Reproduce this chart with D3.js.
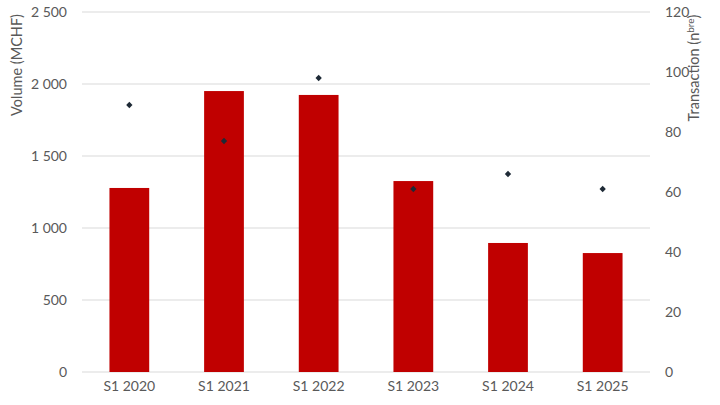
<!DOCTYPE html>
<html>
<head>
<meta charset="utf-8">
<script src="https://cdn.jsdelivr.net/npm/d3@7"></script>
<style>
  html, body { margin: 0; padding: 0; background: #fff; }
  svg text { font-family: Lato, "Open Sans", Arial, sans-serif; fill: #595959; }
</style>
</head>
<body>
<svg id="chart" width="720" height="405"></svg>
<script>
const categories = ["S1 2020", "S1 2021", "S1 2022", "S1 2023", "S1 2024", "S1 2025"];
const volume = [1278, 1951, 1924, 1326, 896, 826];
const transactions = [89, 77, 98, 61, 66, 61];
const leftTicks = [0, 500, 1000, 1500, 2000, 2500];
const rightTicks = [0, 20, 40, 60, 80, 100, 120];

const svg = d3.select("#chart");
const m = { left: 82, right: 70, top: 12, bottom: 33 };
const W = 720, H = 405;

const x = d3.scaleBand().domain(categories).range([m.left, W - m.right]).paddingInner(0.58).paddingOuter(0.29);
const yL = d3.scaleLinear().domain([0, 2500]).range([H - m.bottom, m.top]);
const yR = d3.scaleLinear().domain([0, 120]).range([H - m.bottom, m.top]);

const fmt = d => d3.format(",")(d).replace(/,/g, " ");

// gridlines
svg.append("g").selectAll("line").data(leftTicks).join("line")
  .attr("x1", m.left).attr("x2", W - m.right)
  .attr("y1", d => yL(d)).attr("y2", d => yL(d))
  .attr("stroke", "#d9d9d9").attr("stroke-width", 1);

// bars
svg.append("g").selectAll("rect").data(volume).join("rect")
  .attr("x", (d, i) => x(categories[i]))
  .attr("y", d => yL(d))
  .attr("width", x.bandwidth())
  .attr("height", d => yL(0) - yL(d))
  .attr("fill", "#C00000");

// markers (rotated squares)
svg.append("g").selectAll("path").data(transactions).join("path")
  .attr("d", d3.symbol(d3.symbolSquare, 20))
  .attr("transform", (d, i) => `translate(${x(categories[i]) + x.bandwidth() / 2},${yR(d)}) rotate(45)`)
  .attr("fill", "#1e2a36");

// left axis
const gl = svg.append("g").attr("transform", `translate(${m.left - 15},0)`)
  .call(d3.axisLeft(yL).tickValues(leftTicks).tickFormat(fmt).tickSize(0).tickPadding(0));
gl.select(".domain").remove();
gl.selectAll("text").attr("font-size", 14).style("fill", "#595959");

// right axis
const gr = svg.append("g").attr("transform", `translate(${W - m.right + 15},0)`)
  .call(d3.axisRight(yR).tickValues(rightTicks).tickSize(0).tickPadding(0));
gr.select(".domain").remove();
gr.selectAll("text").attr("font-size", 14).style("fill", "#595959");

// x axis
const gx = svg.append("g").attr("transform", `translate(0,${H - m.bottom})`)
  .call(d3.axisBottom(x).tickSize(0).tickPadding(9));
gx.select(".domain").remove();
gx.selectAll("text").attr("font-size", 14).style("fill", "#595959");

// axis titles
svg.append("text")
  .attr("transform", `translate(22,65) rotate(-90)`)
  .attr("text-anchor", "middle").attr("font-size", 14.5)
  .text("Volume (MCHF)");

const rt = svg.append("text")
  .attr("transform", `translate(699,68) rotate(-90)`)
  .attr("text-anchor", "middle").attr("font-size", 14.5);
rt.append("tspan").text("Transaction (n");
rt.append("tspan").attr("font-size", 10).attr("dy", -5).text("bre");
rt.append("tspan").attr("dy", 5).text(")");
</script>
</body>
</html>
